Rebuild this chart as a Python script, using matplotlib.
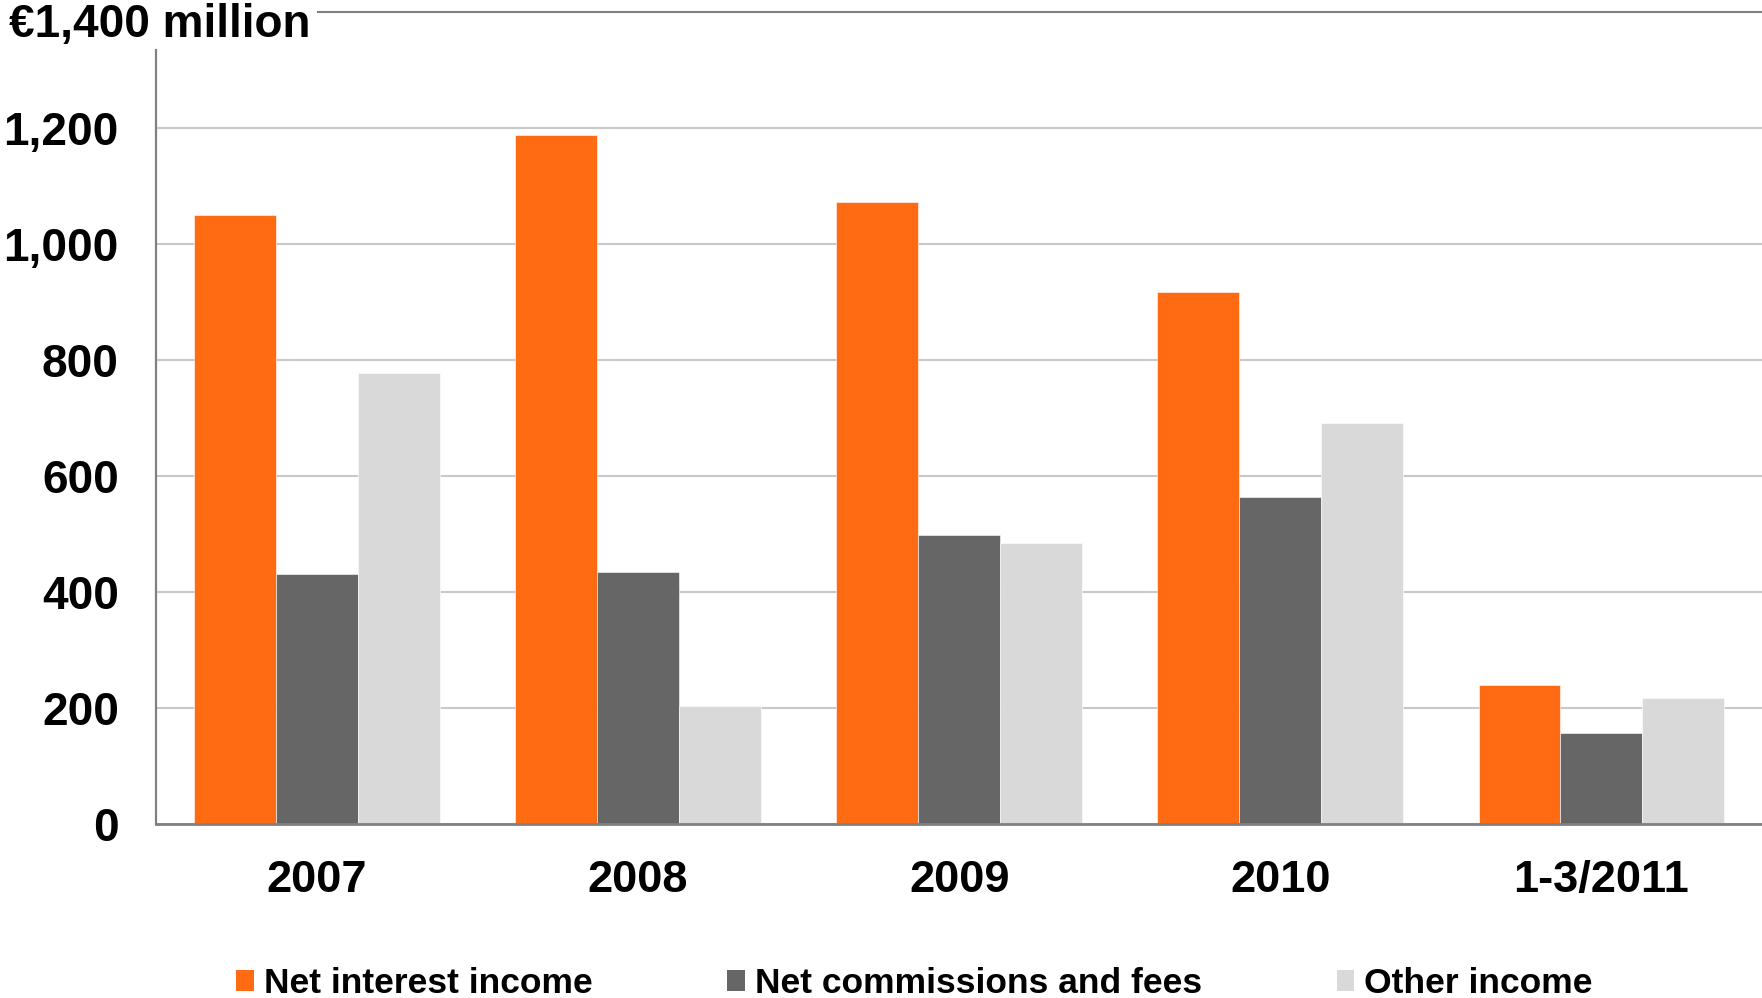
import numpy as np
import matplotlib
matplotlib.use("Agg")
import matplotlib.pyplot as plt
from matplotlib.patches import Patch

# dados (€ milhões)
periodos = ["2007", "2008", "2009", "2010", "1-3/2011"]
net_interest = [1050, 1188, 1072, 917, 240]
net_commissions = [430, 434, 498, 564, 157]
other_income = [778, 203, 485, 692, 217]

series = ["Net interest income", "Net commissions and fees", "Other income"]
cores = ["#FF6B13", "#666666", "#D9D9D9"]
yticks = [0, 200, 400, 600, 800, 1000, 1200]

plt.rcParams["font.family"] = ["Liberation Sans", "DejaVu Sans"]
plt.rcParams["font.weight"] = "bold"

fig = plt.figure(figsize=(17.62, 9.98), dpi=100)
ax = fig.add_axes([0.0887, 0.1747, 0.9113, 0.8129])

x = np.arange(len(periodos))
largura = 0.255
for i, (valores, cor) in enumerate(zip([net_interest, net_commissions, other_income], cores)):
    ax.bar(x + (i - 1) * largura, valores, largura, color=cor,
           edgecolor="white", linewidth=0.4, zorder=3, label=series[i])

ax.set_xlim(-0.5, len(periodos) - 0.5)
ax.set_ylim(0, 1400)
ax.set_yticks(yticks)
ax.set_yticklabels([f"{v:,}" for v in yticks])
ax.set_xticks(x)
ax.set_xticklabels(periodos)
ax.tick_params(axis="y", length=0, pad=27, labelsize=33)
ax.tick_params(axis="x", length=0, pad=26, labelsize=32.5)

ax.grid(axis="y", color="#C8C8C8", linewidth=1.5, zorder=0)
ax.set_axisbelow(True)

# linha do topo (1400) começa depois do rótulo
ax.axhline(1400, xmin=0.101, xmax=1, color="#808080", linewidth=1.5, clip_on=False, zorder=4)

for s in ["top", "right"]:
    ax.spines[s].set_visible(False)
ax.spines["left"].set_color("#808080")
ax.spines["left"].set_linewidth(1.6)
ax.spines["left"].set_bounds(0, 1335)
ax.spines["bottom"].set_color("#808080")
ax.spines["bottom"].set_linewidth(2)
ax.spines["bottom"].set_zorder(5)

fig.text(0.005, 1 - 25 / 998, "€1,400 million", fontsize=33, fontweight="bold", va="center", ha="left")

handles = [Patch(facecolor=c, edgecolor="none") for c in cores]
fig.legend(handles, series, loc="center", bbox_to_anchor=(0.519, 0.0145), ncol=3,
           frameon=False, fontsize=25.5, handlelength=0.5, handleheight=0.5,
           handletextpad=0.28, columnspacing=3.8, borderpad=0.1)

fig.savefig("out.png", dpi=100)
